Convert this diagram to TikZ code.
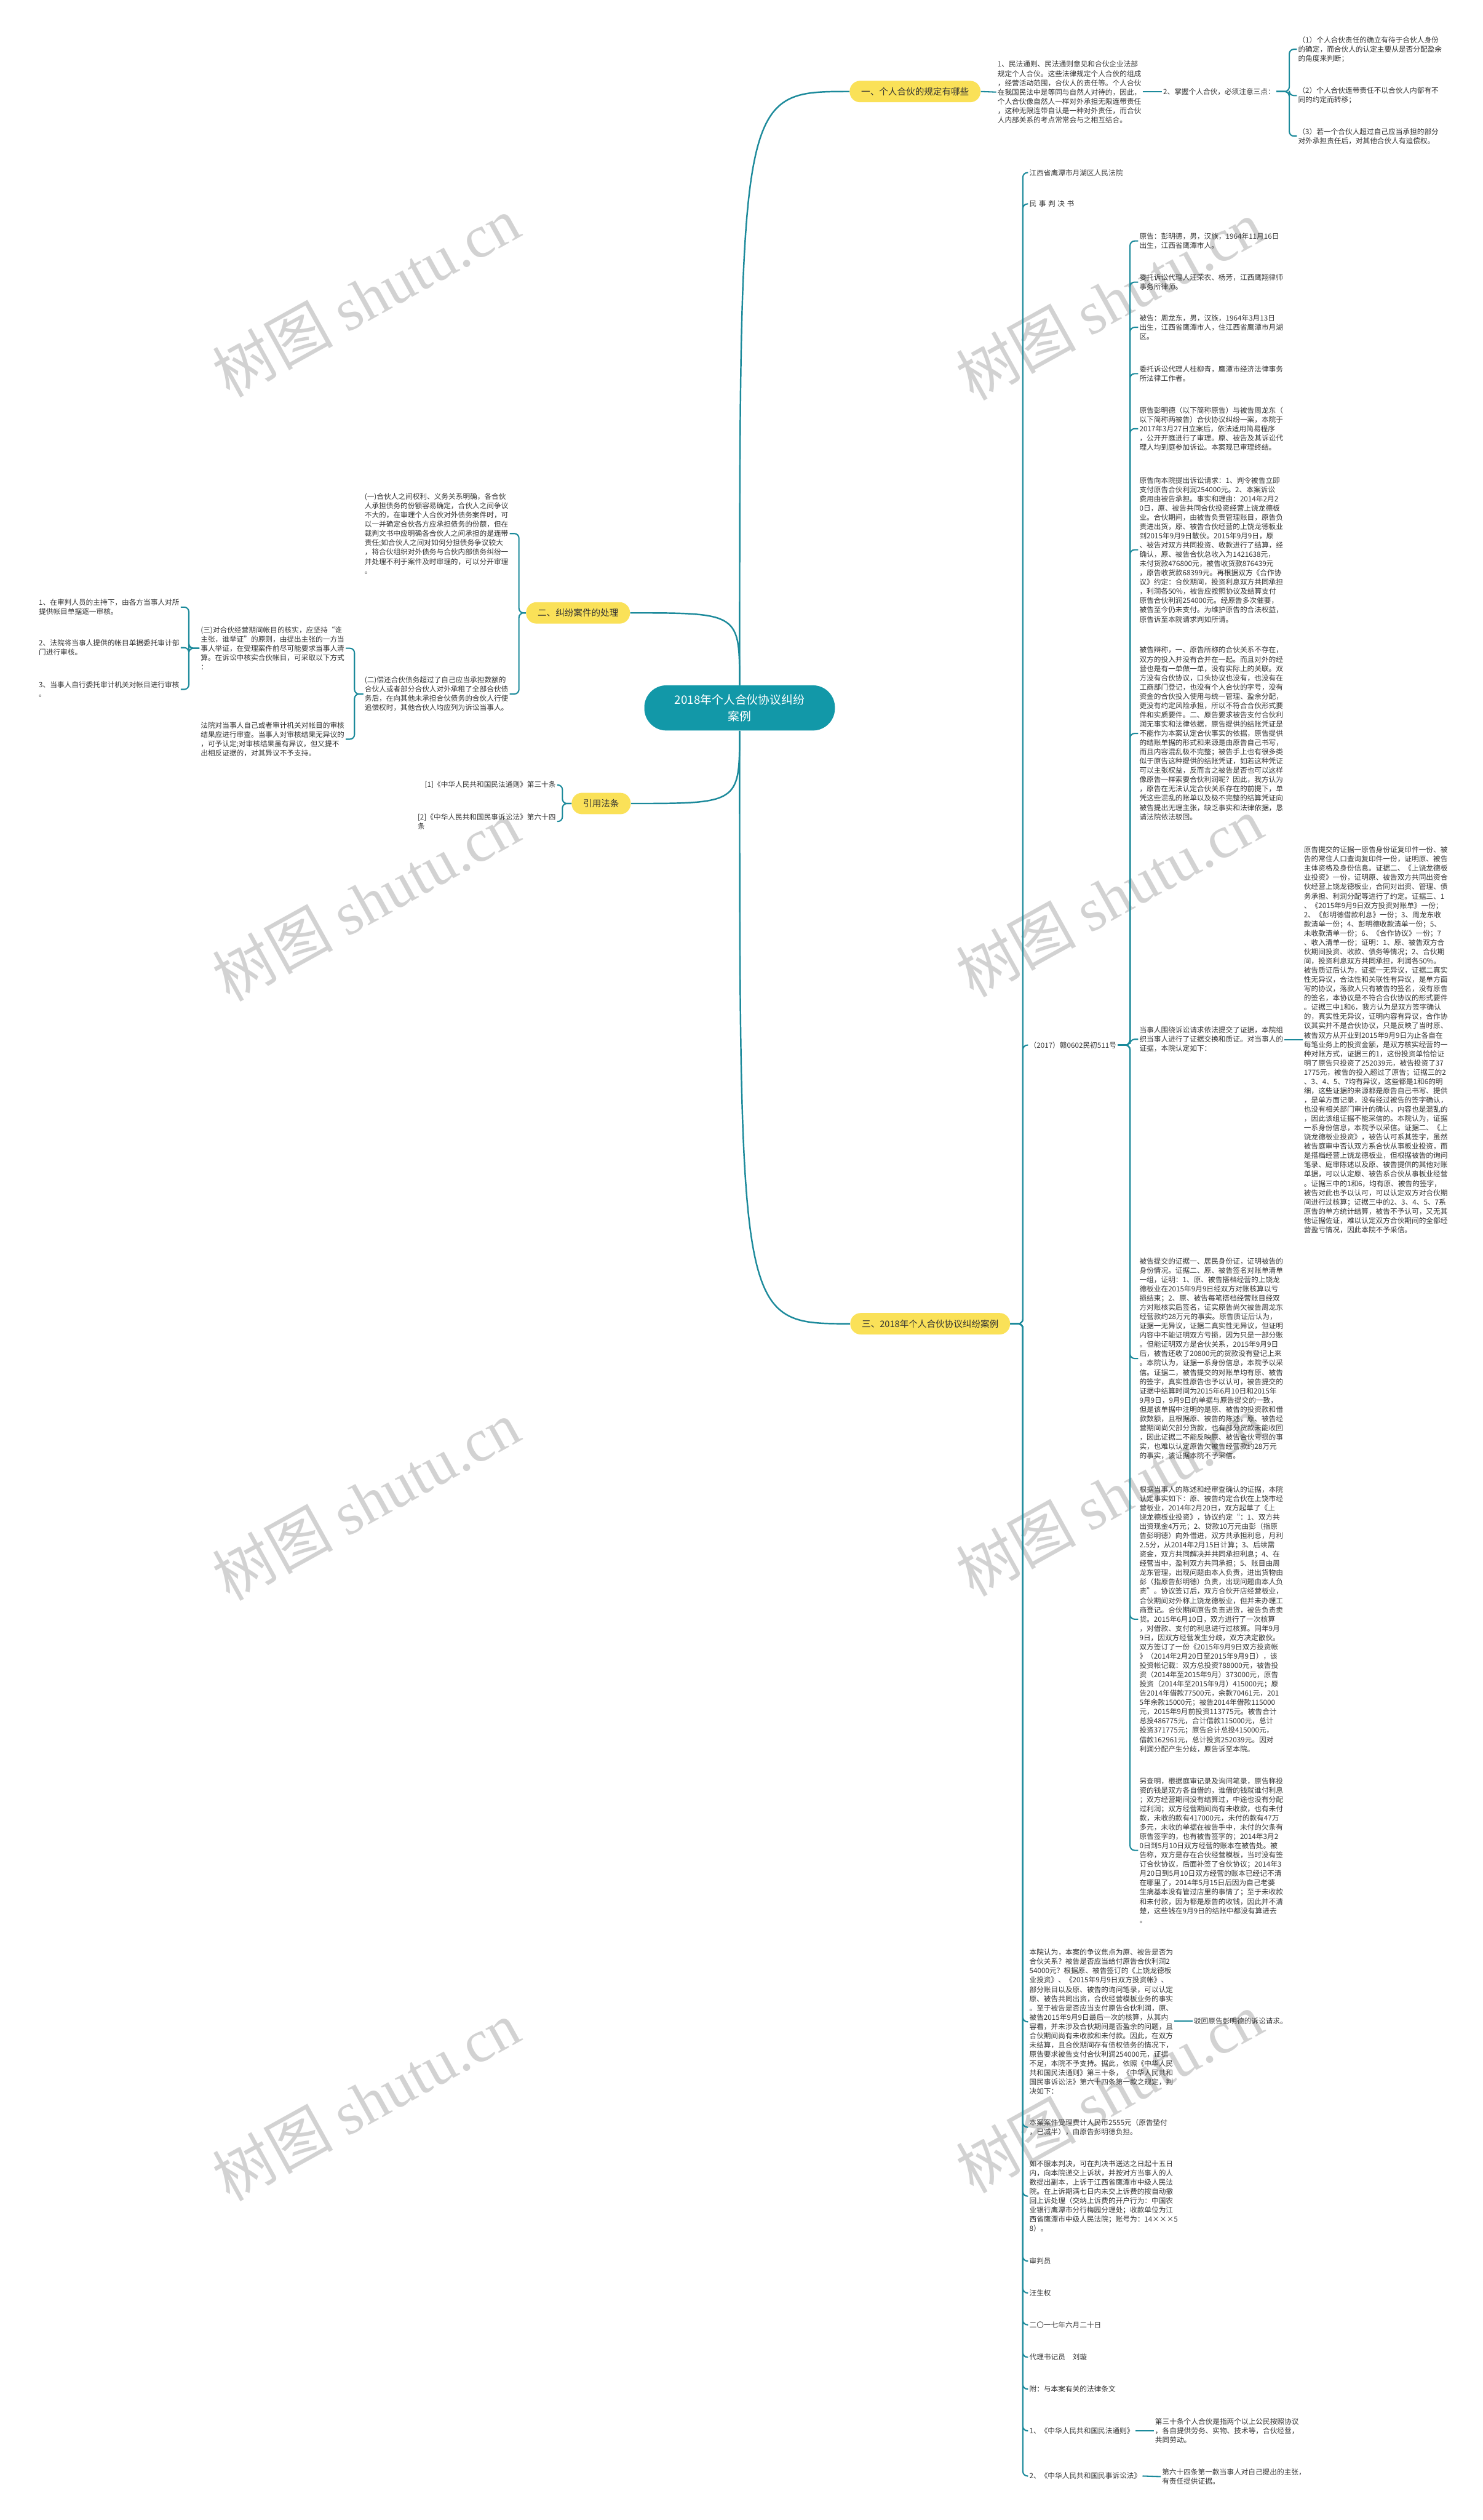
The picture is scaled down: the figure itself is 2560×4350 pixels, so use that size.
\documentclass[tikz,border=0pt]{standalone}
\usepackage{fontspec}
\setmainfont{Noto Sans CJK SC}
\newfontfamily\wmlatin{Liberation Serif}
\definecolor{lc}{RGB}{28,138,155}
\definecolor{rootc}{RGB}{18,152,168}
\definecolor{yl}{RGB}{250,225,88}
\definecolor{tc}{RGB}{51,51,51}
\definecolor{wmc}{RGB}{210,210,210}
\tikzset{
  txt/.style={font=\fontsize{6.2pt}{8pt}\selectfont, text=tc, align=left, inner sep=1pt},
  topic/.style={fill=yl, text=tc, font=\fontsize{7.75pt}{9pt}\selectfont, rounded corners=9pt, minimum height=18.5pt, inner xsep=10pt, inner ysep=0pt},
  rootnode/.style={fill=rootc, text=white, font=\fontsize{10pt}{14.5pt}\selectfont, align=center, rounded corners=19pt, minimum width=164.5pt, minimum height=39pt, inner sep=0pt},
  conn/.style={draw=lc, line width=1.1pt, rounded corners=4pt},
  conn0/.style={draw=lc, line width=1.3pt},
  wm/.style={text=wmc, rotate=29, font=\fontsize{52pt}{56pt}\selectfont, inner sep=0pt}
}
\begin{document}
\begin{tikzpicture}[x=0.5pt,y=-0.5pt]
\fill[white] (0,0) rectangle (2560,4350);
\useasboundingbox (0,0) rectangle (2560,4350);

% watermarks
\node[wm] (wm1) at (632,512) {树图 {\wmlatin shutu.cn}};
\node[wm] (wm2) at (1915,518) {树图 {\wmlatin shutu.cn}};
\node[wm] (wm3) at (632,1555) {树图 {\wmlatin shutu.cn}};
\node[wm] (wm4) at (1915,1548) {树图 {\wmlatin shutu.cn}};
\node[wm] (wm5) at (632,2590) {树图 {\wmlatin shutu.cn}};
\node[wm] (wm6) at (1915,2582) {树图 {\wmlatin shutu.cn}};
\node[wm] (wm7) at (632,3626) {树图 {\wmlatin shutu.cn}};
\node[wm] (wm8) at (1915,3612) {树图 {\wmlatin shutu.cn}};

% root and topics
\node[rootnode] (root) at (1277,1222) {2018年个人合伙协议纠纷\\案例};
\node[topic] (t1) at (1580,158) {一、个人合伙的规定有哪些};
\node[topic] (t2) at (998,1058) {二、纠纷案件的处理};
\node[topic] (t3) at (1606,2285) {三、2018年个人合伙协议纠纷案例};
\node[topic] (t4) at (1038,1387) {引用法条};

\draw[conn0] (root.north) .. controls (root.north |- t1.west) .. (t1.west);
\draw[conn0] (root.north) .. controls (root.north |- t2.east) .. (t2.east);
\draw[conn0] (root.south) .. controls (root.south |- t3.west) .. (t3.west);
\draw[conn0] (root.south) .. controls (root.south |- t4.east) .. (t4.east);

% bracket x positions
\coordinate (ba) at (2226,0);
\coordinate (b2) at (896,0);
\coordinate (bb2) at (612,0);
\coordinate (bb3) at (326,0);
\coordinate (b4) at (971,0);
\coordinate (b3) at (1766,0);
\coordinate (be) at (1951,0);

% ===== branch 1
\node[txt,anchor=west] (a1) at (1720,159) {1、民法通则、民法通则意见和合伙企业法部\\规定个人合伙。这些法律规定个人合伙的组成\\，经营活动范围，合伙人的责任等。个人合伙\\在我国民法中是等同与自然人对待的，因此，\\个人合伙像自然人一样对外承担无限连带责任\\，这种无限连带自认是一种对外责任，而合伙\\人内部关系的考点常常会与之相互结合。};
\node[txt,anchor=west] (a2) at (2006,158) {2、掌握个人合伙，必须注意三点：};
\node[txt,anchor=west] (a3) at (2239,85) {（1）个人合伙责任的确立有待于合伙人身份\\的确定，而合伙人的认定主要从是否分配盈余\\的角度来判断；};
\node[txt,anchor=west] (a4) at (2239,165) {（2）个人合伙连带责任不以合伙人内部有不\\同的约定而转移；};
\node[txt,anchor=west] (a5) at (2239,235) {（3）若一个合伙人超过自己应当承担的部分\\对外承担责任后，对其他合伙人有追偿权。};
\draw[conn] (t1.east) -- (a1.west);
\draw[conn] (a1.east |- a2.west) -- (a2.west);
\foreach \c in {a3,a4,a5} \draw[conn] (a2.east) -- (a2.east -| ba) |- (\c.west);

% ===== branch 2
\node[txt,anchor=east] (b1) at (880,921) {(一)合伙人之间权利、义务关系明确，各合伙\\人承担债务的份额容易确定，合伙人之间争议\\不大的，在审理个人合伙对外债务案件时，可\\以一并确定合伙各方应承担债务的份额，但在\\裁判文书中应明确各合伙人之间承担的是连带\\责任;如合伙人之间对如何分担债务争议较大\\，将合伙组织对外债务与合伙内部债务纠纷一\\并处理不利于案件及时审理的，可以分开审理\\。};
\node[txt,anchor=east] (b2n) at (880,1198) {(二)偿还合伙债务超过了自己应当承担数额的\\合伙人或者部分合伙人对外承租了全部合伙债\\务后，在向其他未承担合伙债务的合伙人行使\\追偿权时，其他合伙人均应列为诉讼当事人。};
\node[txt,anchor=east] (b3n) at (597,1119) {(三)对合伙经营期间帐目的核实，应坚持“谁\\主张，谁举证”的原则，由提出主张的一方当\\事人举证，在受理案件前尽可能要求当事人清\\算。在诉讼中核实合伙帐目，可采取以下方式\\：};
\node[txt,anchor=east] (b4n) at (597,1276) {法院对当事人自己或者审计机关对帐目的审核\\结果应进行审查。当事人对审核结果无异议的\\，可予认定;对审核结果虽有异议，但又提不\\出相反证据的，对其异议不予支持。};
\node[txt,anchor=east] (b5) at (312,1048) {1、在审判人员的主持下，由各方当事人对所\\提供帐目单据逐一审核。};
\node[txt,anchor=east] (b6) at (312,1118) {2、法院将当事人提供的帐目单据委托审计部\\门进行审核。};
\node[txt,anchor=east] (b7) at (312,1190) {3、当事人自行委托审计机关对帐目进行审核\\。};
\foreach \c in {b1,b2n} \draw[conn] (t2.west) -- (t2.west -| b2) |- (\c.east);
\foreach \c in {b3n,b4n} \draw[conn] (b2n.west) -- (b2n.west -| bb2) |- (\c.east);
\foreach \c in {b5,b6,b7} \draw[conn] (b3n.west) -- (b3n.west -| bb3) |- (\c.east);

% ===== branch 4
\node[txt,anchor=east] (c1) at (962,1355) {[1]《中华人民共和国民法通则》第三十条};
\node[txt,anchor=east] (c2) at (962,1418) {[2]《中华人民共和国民事诉讼法》第六十四\\条};
\foreach \c in {c1,c2} \draw[conn] (t4.west) -- (t4.west -| b4) |- (\c.east);

% ===== branch 3
\node[txt,anchor=west] (d1) at (1775,298) {江西省鹰潭市月湖区人民法院};
\node[txt,anchor=west] (d2) at (1775,352) {民\hspace{1.9pt}事\hspace{1.9pt}判\hspace{1.9pt}决\hspace{1.9pt}书};
\node[txt,anchor=west] (d3) at (1775,1804) {（2017）赣0602民初511号};
\node[txt,anchor=west] (d4) at (1775,3490) {本院认为，本案的争议焦点为原、被告是否为\\合伙关系？被告是否应当给付原告合伙利润2\\54000元？根据原、被告签订的《上饶龙德板\\业投资》、《2015年9月9日双方投资帐》、\\部分账目以及原、被告的询问笔录，可以认定\\原、被告共同出资，合伙经营模板业务的事实\\。至于被告是否应当支付原告合伙利润，原、\\被告2015年9月9日最后一次的核算，从其内\\容看，并未涉及合伙期间是否盈余的问题，且\\合伙期间尚有未收款和未付款。因此，在双方\\未结算，且合伙期间存有债权债务的情况下，\\原告要求被告支付合伙利润254000元，证据\\不足，本院不予支持。据此，依照《中华人民\\共和国民法通则》第三十条，《中华人民共和\\国民事诉讼法》第六十四条第一款之规定，判\\决如下：};
\node[txt,anchor=west] (d5) at (1775,3672) {本案案件受理费计人民币2555元（原告垫付\\，已减半），由原告彭明德负担。};
\node[txt,anchor=west] (d6) at (1775,3791) {如不服本判决，可在判决书送达之日起十五日\\内，向本院递交上诉状，并按对方当事人的人\\数提出副本，上诉于江西省鹰潭市中级人民法\\院。在上诉期满七日内未交上诉费的按自动撤\\回上诉处理（交纳上诉费的开户行为：中国农\\业银行鹰潭市分行梅园分理处；收款单位为江\\西省鹰潭市中级人民法院；账号为：14×××5\\8）。};
\node[txt,anchor=west] (d7) at (1775,3903) {审判员};
\node[txt,anchor=west] (d8) at (1775,3958) {汪生权};
\node[txt,anchor=west] (d9) at (1775,4013) {二〇一七年六月二十日};
\node[txt,anchor=west] (d10) at (1775,4069) {代理书记员\quad 刘璇};
\node[txt,anchor=west] (d11) at (1775,4124) {附：与本案有关的法律条文};
\node[txt,anchor=west] (d12) at (1775,4196) {1、《中华人民共和国民法通则》};
\node[txt,anchor=west] (d13) at (1775,4274) {2、《中华人民共和国民事诉讼法》};
\node[txt,anchor=west] (d14) at (2059,3489) {驳回原告彭明德的诉讼请求。};
\node[txt,anchor=west] (d15) at (1992,4196) {第三十条个人合伙是指两个以上公民按照协议\\，各自提供劳务、实物、技术等，合伙经营，\\共同劳动。};
\node[txt,anchor=west] (d16) at (2004,4275) {第六十四条第一款当事人对自己提出的主张，\\有责任提供证据。};
\foreach \c in {d1,d2,d3,d4,d5,d6,d7,d8,d9,d10,d11,d12,d13} \draw[conn] (t3.east) -- (t3.east -| b3) |- (\c.west);
\draw[conn] (d4.east |- d14.west) -- (d14.west);
\draw[conn] (d12.east) -- (d15.west);
\draw[conn] (d13.east) -- (d16.west);

% ===== (2017) children
\node[txt,anchor=west] (e1) at (1965,416) {原告：彭明德，男，汉族，1964年11月16日\\出生，江西省鹰潭市人。};
\node[txt,anchor=west] (e2) at (1965,487) {委托诉讼代理人汪荣农、杨芳，江西鹰翔律师\\事务所律师。};
\node[txt,anchor=west] (e3) at (1965,565) {被告：周龙东，男，汉族，1964年3月13日\\出生，江西省鹰潭市人，住江西省鹰潭市月湖\\区。};
\node[txt,anchor=west] (e4) at (1965,645) {委托诉讼代理人桂柳青，鹰潭市经济法律事务\\所法律工作者。};
\node[txt,anchor=west] (e5) at (1965,740) {原告彭明德（以下简称原告）与被告周龙东（\\以下简称两被告）合伙协议纠纷一案，本院于\\2017年3月27日立案后，依法适用简易程序\\，公开开庭进行了审理。原、被告及其诉讼代\\理人均到庭参加诉讼。本案现已审理终结。};
\node[txt,anchor=west] (e6) at (1965,949) {原告向本院提出诉讼请求：1、判令被告立即\\支付原告合伙利润254000元。2、本案诉讼\\费用由被告承担。事实和理由：2014年2月2\\0日，原、被告共同合伙投资经营上饶龙德板\\业。合伙期间，由被告负责管理账目，原告负\\责进出货，原、被告合伙经营的上饶龙德板业\\到2015年9月9日散伙。2015年9月9日，原\\、被告对双方共同投资、收款进行了结算，经\\确认，原、被告合伙总收入为1421638元，\\未付货款476800元，被告收货款876439元\\，原告收货款68399元。再根据双方《合作协\\议》约定：合伙期间，投资利息双方共同承担\\，利润各50\%，被告应按照协议及结算支付\\原告合伙利润254000元。经原告多次催要，\\被告至今仍未支付。为维护原告的合法权益，\\原告诉至本院请求判如所请。};
\node[txt,anchor=west] (e7) at (1965,1266) {被告辩称，一、原告所称的合伙关系不存在，\\双方的投入并没有合并在一起。而且对外的经\\营也是有一单做一单，没有实际上的关联。双\\方没有合伙协议，口头协议也没有，也没有在\\工商部门登记，也没有个人合伙的字号，没有\\资金的合伙投入使用与统一管理、盈余分配，\\更没有约定风险承担，所以不符合合伙形式要\\件和实质要件。二、原告要求被告支付合伙利\\润无事实和法律依据，原告提供的结账凭证是\\不能作为本案认定合伙事实的依据，原告提供\\的结账单据的形式和来源是由原告自己书写，\\而且内容混乱极不完整；被告手上也有很多类\\似于原告这种提供的结账凭证，如若这种凭证\\可以主张权益，反而言之被告是否也可以这样\\像原告一样索要合伙利润呢？因此，我方认为\\，原告在无法认定合伙关系存在的前提下，单\\凭这些混乱的账单以及极不完整的结算凭证向\\被告提出无理主张，缺乏事实和法律依据，恳\\请法院依法驳回。};
\node[txt,anchor=west] (e8) at (1965,1794) {当事人围绕诉讼请求依法提交了证据，本院组\\织当事人进行了证据交换和质证。对当事人的\\证据，本院认定如下：};
\node[txt,anchor=west] (e9) at (1965,2345) {被告提交的证据一、居民身份证，证明被告的\\身份情况。证据二、原、被告签名对账单清单\\一组，证明：1、原、被告搭档经营的上饶龙\\德板业在2015年9月9日经双方对账核算以亏\\损结束；2、原、被告每笔搭档经营账目经双\\方对账核实后签名，证实原告尚欠被告周龙东\\经营款约28万元的事实。原告质证后认为，\\证据一无异议，证据二真实性无异议，但证明\\内容中不能证明双方亏损，因为只是一部分账\\。但能证明双方是合伙关系，2015年9月9日\\后，被告还收了20800元的货款没有登记上来\\。本院认为，证据一系身份信息，本院予以采\\信。证据二，被告提交的对账单均有原、被告\\的签字，真实性原告也予以认可，被告提交的\\证据中结算时间为2015年6月10日和2015年\\9月9日，9月9日的单据与原告提交的一致，\\但是该单据中注明的是原、被告的投资款和借\\款数额，且根据原、被告的陈述，原、被告经\\营期间尚欠部分货款，也有部分货款未能收回\\，因此证据二不能反映原、被告合伙亏损的事\\实，也难以认定原告欠被告经营款约28万元\\的事实，该证据本院不予采信。};
\node[txt,anchor=west] (e10) at (1965,2795) {根据当事人的陈述和经审查确认的证据，本院\\认定事实如下：原、被告约定合伙在上饶市经\\营板业，2014年2月20日，双方起草了《上\\饶龙德板业投资》，协议约定“：1、双方共\\出资现金4万元；2、贷款10万元由彭（指原\\告彭明德）向外借进，双方共承担利息，月利\\2.5分，从2014年2月15日计算；3、后续需\\资金，双方共同解决并共同承担利息；4、在\\经营当中，盈利双方共同承担；5、账目由周\\龙东管理，出现问题由本人负责，进出货物由\\彭（指原告彭明德）负责，出现问题由本人负\\责”。协议签订后，双方合伙开店经营板业，\\合伙期间对外称上饶龙德板业，但并未办理工\\商登记。合伙期间原告负责进货，被告负责卖\\货。2015年6月10日，双方进行了一次核算\\，对借款、支付的利息进行过核算。同年9月\\9日，因双方经营发生分歧，双方决定散伙。\\双方签订了一份《2015年9月9日双方投资帐\\》（2014年2月20日至2015年9月9日），该\\投资帐记载：双方总投资788000元，被告投\\资（2014年至2015年9月）373000元，原告\\投资（2014年至2015年9月）415000元；原\\告2014年借款77500元，余款70461元，201\\5年余款15000元；被告2014年借款115000\\元，2015年9月前投资113775元。被告合计\\总投486775元，合计借款115000元，总计\\投资371775元；原告合计总投415000元，\\借款162961元，总计投资252039元。因对\\利润分配产生分歧，原告诉至本院。};
\node[txt,anchor=west] (e11) at (1965,3194) {另查明，根据庭审记录及询问笔录，原告称投\\资的钱是双方各自借的，谁借的钱就谁付利息\\；双方经营期间没有结算过，中途也没有分配\\过利润；双方经营期间尚有未收款，也有未付\\款，未收的款有417000元，未付的款有47万\\多元，未收的单据在被告手中，未付的欠条有\\原告签字的，也有被告签字的；2014年3月2\\0日到5月10日双方经营的账本在被告处。被\\告称，双方是存在合伙经营模板，当时没有签\\订合伙协议，后面补签了合伙协议；2014年3\\月20日到5月10日双方经营的账本已经记不清\\在哪里了，2014年5月15日后因为自己老婆\\生病基本没有管过店里的事情了；至于未收款\\和未付款，因为都是原告的收钱，因此并不清\\楚，这些钱在9月9日的结账中都没有算进去\\。};
\node[txt,anchor=west] (e12) at (2249,1795) {原告提交的证据一原告身份证复印件一份、被\\告的常住人口查询复印件一份，证明原、被告\\主体资格及身份信息。证据二、《上饶龙德板\\业投资》一份，证明原、被告双方共同出资合\\伙经营上饶龙德板业，合同对出资、管理、债\\务承担、利润分配等进行了约定。证据三、1\\、《2015年9月9日双方投资对账单》一份；\\2、《彭明德借款利息》一份；3、周龙东收\\款清单一份；4、彭明德收款清单一份；5、\\未收款清单一份；6、《合作协议》一份；7\\、收入清单一份；证明：1、原、被告双方合\\伙期间投资、收款、债务等情况；2、合伙期\\间，投资利息双方共同承担，利润各50\%。\\被告质证后认为，证据一无异议，证据二真实\\性无异议，合法性和关联性有异议，是单方面\\写的协议，落款人只有被告的签名，没有原告\\的签名，本协议是不符合合伙协议的形式要件\\。证据三中1和6，我方认为是双方签字确认\\的，真实性无异议，证明内容有异议，合作协\\议其实并不是合伙协议，只是反映了当时原、\\被告双方从开业到2015年9月9日为止各自在\\每笔业务上的投资金额，是双方核实经营的一\\种对账方式，证据三的1，这份投资单恰恰证\\明了原告只投资了252039元，被告投资了37\\1775元，被告的投入超过了原告；证据三的2\\、3、4、5、7均有异议，这些都是1和6的明\\细，这些证据的来源都是原告自己书写、提供\\，是单方面记录，没有经过被告的签字确认，\\也没有相关部门审计的确认，内容也是混乱的\\，因此该组证据不能采信的。本院认为，证据\\一系身份信息，本院予以采信。证据二、《上\\饶龙德板业投资》，被告认可系其签字，虽然\\被告庭审中否认双方系合伙从事板业投资，而\\是搭档经营上饶龙德板业，但根据被告的询问\\笔录、庭审陈述以及原、被告提供的其他对账\\单据，可以认定原、被告系合伙从事板业经营\\。证据三中的1和6，均有原、被告的签字，\\被告对此也予以认可，可以认定双方对合伙期\\间进行过核算；证据三中的2、3、4、5、7系\\原告的单方统计结算，被告不予认可，又无其\\他证据佐证，难以认定双方合伙期间的全部经\\营盈亏情况，因此本院不予采信。};
\foreach \c in {e1,e2,e3,e4,e5,e6,e7,e8,e9,e10,e11} \draw[conn] (d3.east) -- (d3.east -| be) |- (\c.west);
\draw[conn] (e8.east |- e12.west) -- (e12.west);
\end{tikzpicture}
\end{document}
